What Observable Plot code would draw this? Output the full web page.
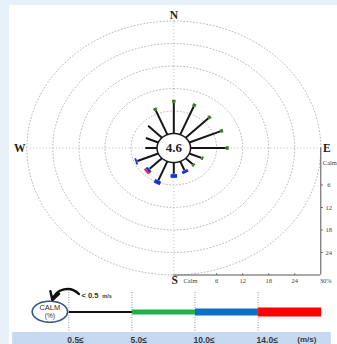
<!DOCTYPE html>
<html>
<head>
<meta charset="utf-8">
<script src="https://cdn.jsdelivr.net/npm/d3@7"></script>
<script src="https://cdn.jsdelivr.net/npm/@observablehq/plot@0.6"></script>
<style>
  html, body { margin: 0; padding: 0; }
  body { width: 337px; height: 344px; background: #e8f0fa; position: relative; overflow: hidden; }
  #panel { position: absolute; left: 9px; top: 5px; width: 328px; height: 339px; background: #ffffff; }
  #rose { position: absolute; left: 0; top: 0; }
  #legend { position: absolute; left: 0; top: 285px; }
</style>
</head>
<body>
<div id="panel"></div>
<div id="rose"></div>
<div id="legend"></div>
<script>
// Wind directions, clockwise from north
const directions = ["N","NNE","NE","ENE","E","ESE","SE","SSE","S","SSW","SW","WSW","W","WNW","NW","NNW"];
// Frequency (%) per speed class and direction
const freq05to5  = [8.2, 8.1, 7.4, 7.7, 8.1, 3.0, 2.3, 2.5, 3.0, 5.4, 4.0, 5.2, 2.7, 3.1, 4.5, 7.0];
const freq5to10  = [0.8, 0.8, 0.7, 0.7, 0.7, 0.5, 0.5, 0.1, 0.1, 0.1, 0.1, 0.1, 0.0, 0.0, 0.0, 0.7];
const freq10to14 = [0.0, 0.0, 0.0, 0.0, 0.0, 0.0, 0.0, 0.7, 1.0, 1.0, 0.6, 0.4, 0.0, 0.0, 0.0, 0.0];
const freq14up   = [0.0, 0.0, 0.0, 0.0, 0.0, 0.0, 0.0, 0.0, 0.0, 0.0, 0.5, 0.0, 0.0, 0.0, 0.0, 0.0];
const calmPct = 4.6;

// Radial axis
const tickValues = [0, 6, 12, 18, 24, 30];
const tickLabels = ["Calm", "6", "12", "18", "24", "30%"];
const ringValues = [6, 12, 18, 24, 30];

// Speed classes for the legend
const classLabels = ["0.5\u2264", "5.0\u2264", "10.0\u2264", "14.0\u2264"];
const speedUnit = "(m/s)";
const calmThreshold = "< 0.5";

// Styling per class: spoke colour / width on the rose, bar colour / width in the legend
const roseColors = ["#161616", "#3b7a2a", "#1a2fe0", "#ee1f4a"];
const roseWidths = [2, 3.6, 6.5, 6.5];
const legendColors = ["#111111", "#1fb24a", "#0b6fc2", "#ff0000"];
const legendWidths = [2, 5, 7, 9];

// Radius of the calm circle, in percent units
const C = 3.86;
const R = C + 30;
const rad = d => d * Math.PI / 180;

// Spoke segments, stacked outward from the calm circle
const classes = [freq05to5, freq5to10, freq10to14, freq14up];
const spokes = [];
directions.forEach((dir, i) => {
  const a = rad(i * 22.5);
  let r0 = C;
  classes.forEach((arr, k) => {
    const v = arr[i];
    if (v > 0) {
      const r1 = r0 + v;
      spokes.push({dir, cls: k, x1: r0 * Math.sin(a), y1: r0 * Math.cos(a), x2: r1 * Math.sin(a), y2: r1 * Math.cos(a)});
      r0 = r1;
    }
  });
});

// Ring outlines
const circlePts = (r, key) => d3.range(0, 361, 3).map(t => ({key, x: r * Math.sin(rad(t)), y: r * Math.cos(rad(t))}));
const rings = ringValues.flatMap(v => circlePts(C + v, v));
const calmRing = circlePts(C, "calm");

const compass = [
  {t: "N", x: 0, y: R, dx: 0, dy: -6},
  {t: "E", x: R, y: 0, dx: 6, dy: 0},
  {t: "S", x: 0, y: -R, dx: 1, dy: 5},
  {t: "W", x: -R, y: 0, dx: -7, dy: 0}
];

const serif = "Liberation Serif, DejaVu Serif, serif";
const grid = {stroke: "#b4b4b4", strokeWidth: 0.9, strokeDasharray: "1,2.3"};

const vTicks = tickValues.slice(0, 5).map((v, i) => ({x: R, y: -(C + v), label: tickLabels[i]}));
const hTicks = tickValues.slice(0, 5).map((v, i) => ({x: C + v, y: -R, label: tickLabels[i]}));

const rose = Plot.plot({
  width: 337,
  height: 290,
  margin: 0,
  style: {background: "transparent", overflow: "visible"},
  x: {domain: [-R, R], range: [26.3, 320.3], axis: null},
  y: {domain: [-R, R], range: [274.5, 20.5], axis: null},
  marks: [
    Plot.line(rings, {x: "x", y: "y", z: "key", ...grid}),
    Plot.ruleY([0], {x1: -R, x2: R, ...grid}),
    Plot.ruleX([0], {y1: -R, y2: R, ...grid}),
    // radial scale along the lower-right corner
    Plot.ruleX([R], {y1: -R, y2: 0, stroke: "#555", strokeWidth: 1}),
    Plot.ruleY([-R], {x1: 0, x2: R, stroke: "#555", strokeWidth: 1}),
    Plot.link(vTicks.slice(1), {x1: "x", x2: d => d.x + 0.5, y1: "y", y2: "y", stroke: "#555", strokeWidth: 0.8}),
    Plot.link(hTicks.slice(1), {x1: "x", x2: "x", y1: "y", y2: d => d.y + 0.5, stroke: "#555", strokeWidth: 0.8}),
    Plot.text(vTicks.slice(0, 1), {x: "x", y: "y", text: "label", textAnchor: "start", dx: 2, fontSize: 6.5, fontFamily: serif, fill: "#444"}),
    Plot.text(vTicks.slice(1), {x: "x", y: "y", text: "label", dx: 8, fontSize: 6.5, fontFamily: serif, fill: "#444"}),
    Plot.text(hTicks, {x: "x", y: "y", text: "label", dy: 6, fontSize: 6.5, fontFamily: serif, fill: "#444"}),
    Plot.text([tickLabels[5]], {x: R, y: -R, text: d => d, textAnchor: "start", dx: -1, dy: 6, fontSize: 6.5, fontFamily: serif, fill: "#444"}),
    // spokes
    ...roseColors.map((c, k) => Plot.link(spokes.filter(s => s.cls === k), {
      x1: "x1", y1: "y1", x2: "x2", y2: "y2", stroke: c, strokeWidth: roseWidths[k], strokeLinecap: "butt"
    })),
    // calm circle
    Plot.line(calmRing, {x: "x", y: "y", fill: "white", stroke: "#1a1a1a", strokeWidth: 1.5}),
    Plot.text([calmPct], {x: 0, y: 0, text: d => d.toFixed(1), fontSize: 13, fontWeight: "bold", fontFamily: serif, fill: "#222"}),
    ...compass.map(c => Plot.text([c], {x: "x", y: "y", text: "t", dx: c.dx, dy: c.dy, fontSize: 11.5, fontWeight: "bold", fontFamily: serif, fill: "#222"}))
  ]
});
document.getElementById("rose").append(rose);

// Legend: speed-class bar with calm marker
const legendRows = classLabels.map((label, i) => ({i, label}));
const calmCx = -0.3, calmRx = 0.28, calmCy = 26.2, calmRy = 10.5;
const calmEllipse = d3.range(0, 361, 6).map(t => ({x: calmCx + calmRx * Math.cos(rad(t)), y: calmCy + calmRy * Math.sin(rad(t))}));
const sans = "Liberation Sans, Arial, sans-serif";

const legend = Plot.plot({
  width: 337,
  height: 59,
  margin: 0,
  style: {background: "transparent", overflow: "visible"},
  x: {domain: [0, 4], range: [68.3, 320.7], axis: null},
  y: {domain: [0, 59], range: [0, 59], axis: null},
  marks: [
    Plot.rectY([0], {x1: -0.89, x2: 4.16, y1: 47, y2: 59, fill: "#c6d9f1"}),
    Plot.ruleX(legendRows, {x: "i", y1: 7, y2: 47, stroke: "#777", strokeWidth: 0.8, strokeDasharray: "1,1.5"}),
    ...legendRows.map(d => Plot.link([d], {x1: "i", x2: r => r.i + 1, y1: 26.5, y2: 26.5, stroke: legendColors[d.i], strokeWidth: legendWidths[d.i], strokeLinecap: "butt"})),
    Plot.text(legendRows, {x: "i", y: 54.3, text: "label", textAnchor: "start", dx: -1.5, fontSize: 8.5, fontWeight: "bold", fontFamily: sans, fill: "#3a3a3a"}),
    Plot.text([speedUnit], {x: 3.62, y: 54.3, text: d => d, textAnchor: "start", fontSize: 8, fontWeight: "bold", fontFamily: sans, fill: "#3a3a3a"}),
    Plot.line(calmEllipse, {x: "x", y: "y", fill: "white", stroke: "#35568c", strokeWidth: 1.6}),
    Plot.text(["CALM"], {x: calmCx, y: 22, text: d => d, fontSize: 7.5, fontFamily: sans, fill: "#333"}),
    Plot.text(["(%)"], {x: calmCx, y: 30.5, text: d => d, fontSize: 6.5, fontFamily: sans, fill: "#333"}),
    Plot.arrow([0], {x1: 0.16, y1: 8.5, x2: -0.26, y2: 14.5, bend: -60, stroke: "#111", strokeWidth: 2.5, headLength: 6}),
    Plot.text([calmThreshold], {x: 0.2, y: 10.5, text: d => d, textAnchor: "start", fontSize: 7.5, fontWeight: "bold", fontFamily: sans, fill: "#333"}),
    Plot.text(["m/s"], {x: 0.53, y: 10.5, text: d => d, textAnchor: "start", fontSize: 5.5, fontWeight: "bold", fontFamily: sans, fill: "#333"})
  ]
});
document.getElementById("legend").append(legend);
</script>
</body>
</html>
